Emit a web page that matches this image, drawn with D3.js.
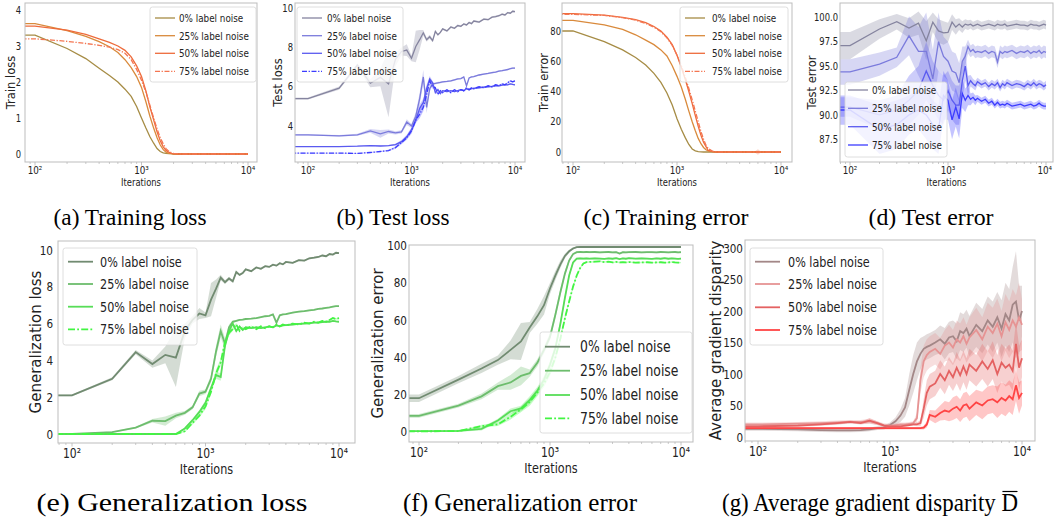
<!DOCTYPE html>
<html>
<head>
<meta charset="utf-8">
<script src="https://cdn.jsdelivr.net/npm/d3@7"></script>
<style>
  body { margin: 0; background: #fff; }
  .cond { font-family: "DejaVu Sans", sans-serif; fill: #222; }
  .norm { font-family: "DejaVu Sans", sans-serif; fill: #222; }
  .cap { font-family: "Liberation Serif", "Times New Roman", serif; fill: #000; }
</style>
</head>
<body>
<svg id="fig" width="1055" height="518"></svg>
<script>
// iterations at which the curves were logged
const iters = [0,100,200,300,400,500,600,700,800,900,1000,1100,1200,1300,1400,1500,1600,1700,1800,1900,
  2000,2200,2400,2600,2800,3000,3200,3400,3600,3800,4000,4500,5000,5500,6000,6500,7000,7500,8000,8500,9000,9500,10000];
const noiseLabels = ["0% label noise", "25% label noise", "50% label noise", "75% label noise"];
const xTickLabels = ["10²", "10³", "10⁴"];

// (a) train loss
const trainLoss0 = [3.3,3.3,2.93,2.65,2.38,2.18,2.0,1.8,1.6,1.32, 1.0,0.72,0.48,0.3,0.15,0.07,0.03,0.02,0.01,0.01,
  0,0,0,0,0,0,0,0,0,0, 0,0,0,0,0,0,0,0,0,0, 0,0,0];
const trainLoss25 = [3.62,3.62,3.43,3.27,3.12,2.98,2.82,2.62,2.4,2.15, 1.85,1.45,1.05,0.72,0.45,0.25,0.12,0.05,0.02,0.01,
  0,0,0,0,0,0,0,0,0,0, 0,0,0,0,0,0,0,0,0,0, 0,0,0];
const trainLoss50 = [3.55,3.55,3.44,3.32,3.2,3.1,3.0,2.88,2.7,2.45, 2.15,1.75,1.3,0.95,0.62,0.37,0.2,0.1,0.05,0.02,
  0.01,0,0,0,0,0,0,0,0,0, 0,0,0,0,0,0,0,0,0,0, 0,0,0];
const trainLoss75 = [3.2,3.2,3.13,3.07,3.02,2.97,2.9,2.8,2.62,2.35, 2.05,1.72,1.35,1.0,0.7,0.45,0.28,0.15,0.08,0.04,
  0.02,0.01,0,0,0,0,0,0,0,0, 0,0,0,0,0,0,0,0,0,0, 0,0,0];

// (b) test loss
const testLoss0 = [5.4,5.4,5.93,7.1,6.18,6.48,6.15,7.4,7.8,7.87, 7.45,8.05,8.4,8.75,8.4,8.55,8.35,8.82,8.65,8.77,
  8.95,8.85,9.05,8.98,9.12,9.08,9.2,9.15,9.28,9.22, 9.35,9.3,9.45,9.42,9.55,9.58,9.62,9.7,9.66,9.78, 9.75,9.85,9.83];
const testLoss25 = [3.55,3.55,3.5,3.55,3.75,3.6,3.72,3.65,3.7,4.2, 4.0,4.5,5.4,6.5,4.95,5.9,6.15,6.17,6.2,6.22,
  6.25,6.27,6.3,6.35,6.4,6.42,6.5,6.05,6.45,6.5, 6.52,6.6,6.65,6.68,6.72,6.75,6.8,6.82,6.85,6.88, 6.92,6.95,6.95];
const testLoss50 = [2.95,2.95,2.95,2.97,3.0,2.98,3.0,3.05,3.2,3.45, 3.8,4.3,4.9,5.2,5.9,6.4,6.2,5.7,5.85,5.65,
  5.8,5.75,5.8,5.75,5.8,5.85,5.8,5.9,5.85,5.9, 5.92,5.95,5.98,6.0,6.02,6.05,6.05,6.08,6.1,6.1, 6.15,6.12,6.1];
const testLoss75 = [2.62,2.62,2.62,2.6,2.65,2.7,2.75,2.9,3.15,3.4, 3.75,4.3,4.6,4.95,5.6,6.3,6.0,5.95,5.6,5.8,
  5.7,5.85,5.7,5.85,5.75,5.85,5.8,5.95,5.85,5.95, 5.9,6.0,5.95,6.05,6.0,6.1,6.05,6.15,6.1,6.2, 6.3,6.25,6.3];
const testLossBand0 = [0.05,0.05,0.08,0.1,0.2,0.45,1.7,0.35,0.2,0.3, 0.15,0.8,0.5,0.15,0.1,0.1,0.08,0.08,0.05,0.05,
  0.05,0.05,0.05,0.05,0.05,0.05,0.05,0.05,0.05,0.05, 0.05,0.05,0.05,0.05,0.05,0.05,0.05,0.05,0.05,0.05, 0.05,0.05,0.05];
const testLossBand25 = [0.03,0.03,0.04,0.05,0.1,0.2,0.1,0.08,0.08,0.15, 0.1,0.2,0.3,0.35,0.3,0.15,0.08,0.05,0.05,0.05,
  0.04,0.04,0.04,0.04,0.04,0.04,0.04,0.04,0.04,0.04, 0.04,0.04,0.04,0.04,0.04,0.04,0.04,0.04,0.04,0.04, 0.04,0.04,0.04];
const testLossBand50 = [0.02,0.02,0.02,0.02,0.03,0.03,0.03,0.05,0.08,0.1, 0.12,0.15,0.2,0.2,0.2,0.15,0.1,0.08,0.06,0.05,
  0.04,0.04,0.04,0.04,0.04,0.04,0.04,0.04,0.04,0.04, 0.04,0.04,0.04,0.04,0.04,0.04,0.04,0.04,0.04,0.04, 0.04,0.04,0.04];
const testLossBand75 = [0.02,0.02,0.02,0.02,0.03,0.03,0.04,0.06,0.08,0.1, 0.15,0.15,0.2,0.2,0.2,0.15,0.1,0.08,0.06,0.05,
  0.04,0.04,0.04,0.04,0.04,0.04,0.04,0.04,0.04,0.04, 0.04,0.04,0.04,0.04,0.04,0.04,0.04,0.04,0.04,0.04, 0.04,0.04,0.04];

// (c) train error
const trainErr0 = [80,80,73,67.5,62.5,57.5,52,46,39,31, 22,15,9.5,5,2,0.8,0.3,0.1,0,0,
  0,0,0,0,0,0,0,0,0,0, 0,0,0,0,0,0,0,0,0,0, 0,0,0];
const trainErr25 = [87,87,84,81,77.5,74,71,67.5,63.5,57, 50,43,35,27,20,14,9,5.5,3,1.5,
  0.7,0.2,0,0,0,0,0,0,0,0, 0,0,0,0,0,0,0,0,0,0, 0,0,0];
const trainErr50 = [91.5,91.5,90.5,89,87.5,85.5,83,80,76,71, 64,56,48,40,32,24,17,11,6.5,3.5,
  1.0,0.2,0,0,0,0,0,0,0,0, 0,0,0,0,0,0,0,0,0,0, 0,0,0];
const trainErr75 = [91,91,90.3,88.8,87.2,85,82.5,79.5,75.5,70.5, 64,57,49.5,42,34.5,27,20,13.5,8.5,4.5,
  2.2,0.5,0.1,0,0,0,0,0,0,0, 0,0,0,0,0,0,0,0,0,0, 0,0,0];
const trainErrBand75 = [0,0,0,0,0,0,0,0,0,0, 0,0,0,0,0,0,0,0,0,0,
  0,0,0,0,0,0,0,0,0,0, 0,0,0,0,1.8,0,0,0,0,0, 0,0,0];

// (d) test error
const testErr0 = [97.1,97.1,98.8,99.55,98.9,99.4,97.6,99.5,98.6,98.4, 98.45,99.5,99.0,99.3,99.0,99.3,99.2,99.3,99.1,99.2,
  99.3,99.1,99.2,99.3,99.2,99.1,99.3,99.2,99.2,99.3, 99.1,99.2,99.3,99.2,99.2,99.1,99.3,99.2,99.2,99.1, 99.2,99.3,99.2];
const testErr25 = [94.4,94.4,95.2,95.9,98.1,96.5,96.5,93.7,97.5,96.0, 95.5,94.5,94.3,93.3,95.5,96.0,97.0,96.5,96.7,96.4,
  96.5,96.4,96.6,96.3,96.5,96.4,95.4,96.5,96.3,96.5, 96.4,96.6,96.3,96.5,96.4,96.6,96.3,96.5,96.4,96.6, 96.3,96.5,96.4];
const testErr50 = [90.8,90.8,90.0,90.5,91.5,92.5,94.5,93.0,92.0,91.5, 92.5,91.5,91.0,91.0,93.5,95.0,93.0,93.5,93.2,93.0,
  93.4,93.1,93.3,92.9,93.2,93.0,93.3,92.8,93.2,93.0, 93.3,93.0,93.2,93.1,92.9,93.2,93.0,93.3,93.0,93.2, 93.1,92.9,93.1];
const testErr75 = [90.5,90.5,88.5,89.0,90.0,90.5,90.0,89.0,88.5,92.0, 91.5,89.5,90.8,89.6,92.2,91.5,92.0,91.6,91.8,91.5,
  91.7,91.4,91.6,91.2,91.4,91.0,91.3,91.0,91.1,91.0, 91.2,90.9,91.0,91.1,90.9,91.0,91.1,90.9,91.0,91.2, 91.0,90.9,90.9];
const testErrBand0 = [1.4,1.4,1.0,0.8,1.0,1.2,2.0,1.0,1.2,1.2, 1.0,0.8,0.8,0.6,0.6,0.5,0.5,0.45,0.45,0.45,
  0.45,0.45,0.45,0.45,0.45,0.45,0.45,0.45,0.45,0.45, 0.45,0.45,0.45,0.45,0.45,0.45,0.45,0.45,0.45,0.45, 0.45,0.45,0.45];
const testErrBand25 = [1.3,1.3,1.2,1.0,2.0,2.5,4.0,3.0,3.0,2.0, 2.0,2.0,2.0,2.0,1.5,1.0,0.7,0.6,0.6,0.6,
  0.6,0.6,0.6,0.6,0.6,0.6,0.6,0.6,0.6,0.6, 0.6,0.6,0.6,0.6,0.6,0.6,0.6,0.6,0.6,0.6, 0.6,0.6,0.6];
const testErrBand50 = [1.0,1.0,1.5,1.5,2.5,2.5,3.0,2.5,2.5,2.5, 2.0,2.0,2.0,2.0,1.8,1.5,1.0,0.6,0.5,0.5,
  0.4,0.4,0.4,0.4,0.4,0.4,0.4,0.4,0.4,0.4, 0.4,0.4,0.4,0.4,0.4,0.4,0.4,0.4,0.4,0.4, 0.4,0.4,0.4];
const testErrBand75 = [1.5,1.5,2.5,2.5,2.0,2.0,2.5,2.5,2.5,2.5, 2.0,2.0,2.0,2.0,1.5,1.2,1.0,0.6,0.5,0.5,
  0.35,0.35,0.35,0.35,0.35,0.35,0.35,0.35,0.35,0.35, 0.35,0.35,0.35,0.35,0.35,0.35,0.35,0.35,0.35,0.35, 0.35,0.35,0.35];

// (e) generalization loss
const genLoss0 = [2.1,2.1,3.0,4.45,3.8,4.3,4.15,5.6,6.2,6.55, 6.45,7.3,7.9,8.5,8.25,8.45,8.3,8.8,8.65,8.75,
  8.95,8.85,9.05,8.98,9.12,9.08,9.2,9.15,9.28,9.22, 9.35,9.3,9.45,9.42,9.55,9.58,9.62,9.7,9.66,9.78, 9.75,9.85,9.83];
const genLoss25 = [0,0,0.1,0.35,0.72,0.7,1.0,1.15,1.45,2.2, 2.3,3.0,4.5,5.6,4.9,5.8,6.1,6.15,6.2,6.22,
  6.25,6.27,6.3,6.35,6.4,6.42,6.5,6.05,6.45,6.5, 6.52,6.6,6.65,6.68,6.72,6.75,6.8,6.82,6.85,6.88, 6.92,6.95,6.95];
const genLoss50 = [0,0,0,0,0,0,0,0.3,0.75,1.2, 1.7,2.5,3.2,3.1,4.8,5.6,6.0,5.6,5.85,5.65,
  5.8,5.75,5.8,5.75,5.8,5.85,5.8,5.9,5.85,5.9, 5.92,5.95,5.98,6.0,6.02,6.05,6.05,6.08,6.1,6.1, 6.15,6.12,6.1];
const genLoss75 = [0,0,0,0,0,0,0,0.15,0.6,1.0, 1.5,2.3,3.3,3.9,5.0,5.5,5.7,5.95,5.6,5.8,
  5.7,5.85,5.7,5.85,5.75,5.85,5.8,5.95,5.85,5.95, 5.9,6.0,5.95,6.05,6.0,6.1,6.05,6.15,6.1,6.2, 6.3,6.25,6.3];
const genLossBand0 = [0.05,0.05,0.08,0.12,0.2,0.45,1.6,0.4,0.2,0.3, 0.15,0.9,0.5,0.15,0.1,0.1,0.08,0.08,0.05,0.05,
  0.05,0.05,0.05,0.05,0.05,0.05,0.05,0.05,0.05,0.05, 0.05,0.05,0.05,0.05,0.05,0.05,0.05,0.05,0.05,0.05, 0.05,0.05,0.05];
const genLossBand25 = [0.02,0.02,0.03,0.05,0.1,0.25,0.15,0.1,0.1,0.15, 0.12,0.2,0.3,0.35,0.3,0.15,0.08,0.05,0.05,0.05,
  0.04,0.04,0.04,0.04,0.04,0.04,0.04,0.04,0.04,0.04, 0.04,0.04,0.04,0.04,0.04,0.04,0.04,0.04,0.04,0.04, 0.04,0.04,0.04];
const genLossBand50 = [0.02,0.02,0.02,0.02,0.02,0.02,0.02,0.05,0.08,0.1, 0.12,0.15,0.2,0.2,0.2,0.15,0.1,0.08,0.06,0.05,
  0.04,0.04,0.04,0.04,0.04,0.04,0.04,0.04,0.04,0.04, 0.04,0.04,0.04,0.04,0.04,0.04,0.04,0.04,0.04,0.04, 0.04,0.04,0.04];
const genLossBand75 = [0.02,0.02,0.02,0.02,0.02,0.02,0.02,0.06,0.08,0.1, 0.15,0.15,0.2,0.2,0.2,0.15,0.1,0.08,0.06,0.05,
  0.04,0.04,0.04,0.04,0.04,0.04,0.04,0.04,0.04,0.04, 0.04,0.04,0.04,0.04,0.04,0.04,0.04,0.04,0.04,0.04, 0.04,0.04,0.04];

// (f) generalization error
const genErr0 = [18,18,28,34,38.5,44,48.5,56,62,68, 77,84,90,94.5,97,98.5,99.2,99.4,99.3,99.4,
  99.3,99.4,99.3,99.4,99.3,99.3,99.4,99.3,99.4,99.3, 99.3,99.4,99.3,99.3,99.4,99.3,99.3,99.4,99.3,99.3, 99.4,99.3,99.3];
const genErr25 = [8.5,8.5,14,19,24.5,26.5,30,31.5,37,44, 51,63,75,85,92,95.5,96.5,96.6,96.5,96.6,
  96.5,96.6,96.4,96.5,96.6,96.4,96.5,95.8,96.5,96.4, 96.5,96.6,96.4,96.5,96.5,96.4,96.6,96.5,96.4,96.5, 96.6,96.4,96.5];
const genErr50 = [0.3,0.3,0.4,1.5,6,11,12.5,17,22,28, 36,45,58,72,84,91,93,93.2,93.1,93.2,
  93.0,93.2,93.1,92.9,93.2,93.0,93.3,92.8,93.2,93.0, 93.3,93.0,93.2,93.1,92.9,93.2,93.0,93.3,93.0,93.2, 93.1,92.9,93.1];
const genErr75 = [0.2,0.2,0.3,3,4,8,12,16,21,26, 32,40,50,61,70,78,84,88,90.5,91.2,
  91.3,91.4,91.6,91.2,91.4,91.0,91.3,91.0,91.1,91.0, 91.2,90.9,91.0,91.1,90.9,91.0,91.1,90.9,91.0,91.2, 91.0,90.9,90.9];
const genErrBand0 = [2,2,2,2.5,2.5,5,10,3,4,5, 3,2.5,2,1.2,0.8,0.6,0.5,0.5,0.5,0.5,
  0.5,0.5,0.5,0.5,0.5,0.5,0.5,0.5,0.5,0.5, 0.5,0.5,0.5,0.5,0.5,0.5,0.5,0.5,0.5,0.5, 0.5,0.5,0.5];
const genErrBand25 = [1,1,1,1.5,2,4,5,2,2,2, 2,2,2,1.5,1,0.6,0.5,0.5,0.5,0.5,
  0.5,0.5,0.5,0.5,0.5,0.5,0.5,0.5,0.5,0.5, 0.5,0.5,0.5,0.5,0.5,0.5,0.5,0.5,0.5,0.5, 0.5,0.5,0.5];
const genErrBand50 = [0.3,0.3,0.4,0.8,1,1.5,1.5,2,2,2, 2,2,2,1.5,1.2,0.8,0.5,0.5,0.5,0.5,
  0.4,0.4,0.4,0.4,0.4,0.4,0.4,0.4,0.4,0.4, 0.4,0.4,0.4,0.4,0.4,0.4,0.4,0.4,0.4,0.4, 0.4,0.4,0.4];
const genErrBand75 = [0.3,0.3,0.4,0.8,1,1.5,1.5,2,2,2, 2,2,2,1.5,1.2,1,0.8,0.6,0.5,0.5,
  0.4,0.4,0.4,0.4,0.4,0.4,0.4,0.4,0.4,0.4, 0.4,0.4,0.4,0.4,0.4,0.4,0.4,0.4,0.4,0.4, 0.4,0.4,0.4];

// (g) average gradient disparity
const disp0 = [13,13,12,11,10.5,10.5,11,12,14,15, 19,25,34,47,75,100,120,132,140,143,
  145,150,155,148,158,160,152,168,165,172, 160,178,168,185,175,190,172,195,185,210, 215,185,200];
const disp25 = [20,20,21,22,23,24,24,25,22,19, 18,19,20,20,21,22,30,90,120,130,
  135,140,132,145,150,142,155,150,160,148, 158,170,155,175,165,180,160,182,170,185, 175,190,178];
const disp50 = [17,17,18,20,22,24,22,26,22,18, 17,17,17,18,19,20,20,22,45,70,
  80,85,100,90,105,95,110,98,112,100, 115,105,120,108,122,100,118,110,115,105, 148,110,125];
const disp75 = [14,14,14,14,14,14,14,14,14,14, 14,14,14,14,14,14,14,14,15,20,
  35,32,38,42,40,45,48,42,50,52, 45,55,50,58,60,55,62,58,65,60, 82,62,70];
const dispBand0 = [3,3,3,3,3,3,3,3,3,3, 4,6,10,15,25,30,30,25,20,20,
  20,20,22,25,25,25,28,30,30,30, 32,35,35,38,40,40,45,50,50,60, 80,55,40];
const dispBand25 = [3,3,3,3,3,3,3,4,3,3, 3,3,3,3,3,3,8,20,25,25,
  25,25,25,25,28,28,30,30,30,30, 32,35,35,38,40,40,40,45,45,50, 50,55,40];
const dispBand50 = [2,2,2,2,2,2,2,4,3,2, 2,2,2,2,2,2,3,5,15,20,
  20,20,22,22,22,22,25,25,25,25, 25,25,28,28,30,30,30,30,32,32, 35,35,30];
const dispBand75 = [2,2,2,2,2,2,2,2,2,2, 2,2,2,2,2,2,2,2,3,5,
  8,10,12,15,15,18,18,18,20,20, 20,20,22,22,22,25,25,25,25,25, 25,25,20];

const orangeColors = ["#a68c45", "#d98a3c", "#ee6b3b", "#f47652"];
const blueColors = ["#85849f", "#7b7bdc", "#5a5af0", "#3c3cff"];
const greenColors = ["#718b71", "#6dbd6d", "#57dd57", "#42f542"];
const redColors = ["#a38787", "#e69393", "#e46262", "#ff4444"];

// the source figures were squeezed sideways, so text gets narrowed by this factor
const SQUEEZE = 0.8;
const W = 1055;

const topRow = { tick: 10.5, xlab: 10.5, ylab: 11.5, lw: 1.3, dash: "5,1.6,1.3,1.6", leg: 20, small: true };
const bottomRow = { tick: 13, xlab: 14, ylab: 15, lw: 1.8, dash: "7,2.2,1.8,2.2", leg: 25, small: false };

const panels = [
  { id: "a", series: [trainLoss0, trainLoss25, trainLoss50, trainLoss75], bands: null,
    colors: orangeColors, dashed: [false, false, false, true], st: topRow,
    box: { l: 25, r: 257, t: 3, b: 162 }, x2: 35, x4: 248, yv: [0, 4], yp: [154, 10],
    yTicks: [0, 1, 2, 3, 4], yFmt: d3.format("d"), ylabel: "Train loss", ylabX: 11, tickR: 21,
    legend: { x: 150, y: 7, w: 106, h: 75, tx: 179, l0: 155, rows: [18, 35.7, 53.3, 71.3], fs: 11 },
    caption: "(a) Training loss", capX: 130, capW: 153 },
  { id: "b", series: [testLoss0, testLoss25, testLoss50, testLoss75],
    bands: [testLossBand0, testLossBand25, testLossBand50, testLossBand75],
    colors: blueColors, dashed: [false, false, false, true], st: topRow,
    box: { l: 295, r: 525, t: 3, b: 162 }, x2: 308, x4: 515, yv: [4, 10], yp: [126, 8.3],
    yTicks: [4, 6, 8, 10], yFmt: d3.format("d"), ylabel: "Test loss", ylabX: 278, tickR: 293,
    legend: { x: 297, y: 7, w: 106, h: 75, tx: 327, l0: 302, rows: [18, 35.7, 53.3, 71.3], fs: 11 },
    caption: "(b) Test loss", capX: 393, capW: 113 },
  { id: "c", series: [trainErr0, trainErr25, trainErr50, trainErr75],
    bands: [null, null, null, trainErrBand75],
    colors: orangeColors, dashed: [false, false, false, true], st: topRow,
    box: { l: 562, r: 792, t: 3, b: 162 }, x2: 573, x4: 781, yv: [0, 80], yp: [152, 31],
    yTicks: [0, 20, 40, 60, 80], yFmt: d3.format("d"), ylabel: "Train error", ylabX: 544, tickR: 561,
    legend: { x: 680, y: 7, w: 108, h: 75, tx: 712, l0: 685, rows: [18, 35.7, 53.3, 71.3], fs: 11 },
    caption: "(c) Training error", capX: 666, capW: 165 },
  { id: "d", series: [testErr0, testErr25, testErr50, testErr75],
    bands: [testErrBand0, testErrBand25, testErrBand50, testErrBand75],
    colors: blueColors, dashed: [false, false, false, false], st: topRow,
    box: { l: 840, r: 1053, t: 3, b: 162 }, x2: 850, x4: 1046, yv: [87.5, 100], yp: [139.3, 17.3],
    yTicks: [87.5, 90, 92.5, 95, 97.5, 100], yFmt: d3.format(".1f"), ylabel: "Test error", ylabX: 812, tickR: 838,
    legend: { x: 845, y: 82, w: 102, h: 75, tx: 872, l0: 848, rows: [90, 108.3, 126.7, 145], fs: 11 },
    caption: "(d) Test error", capX: 931, capW: 125 },
  { id: "e", series: [genLoss0, genLoss25, genLoss50, genLoss75],
    bands: [genLossBand0, genLossBand25, genLossBand50, genLossBand75],
    colors: greenColors, dashed: [false, false, false, true], st: bottomRow,
    box: { l: 58, r: 355, t: 241, b: 443 }, x2: 72, x4: 339, yv: [0, 10], yp: [434, 250],
    yTicks: [0, 2, 4, 6, 8, 10], yFmt: d3.format("d"), ylabel: "Generalization loss", ylabX: 36, tickR: 53,
    legend: { x: 63, y: 248, w: 134, h: 97, tx: 100, l0: 68, rows: [261.7, 284, 306.7, 329.3], fs: 14 },
    caption: "(e) Generalization loss", capX: 172, capW: 271 },
  { id: "f", series: [genErr0, genErr25, genErr50, genErr75],
    bands: [genErrBand0, genErrBand25, genErrBand50, genErrBand75],
    colors: greenColors, dashed: [false, false, false, true], st: bottomRow,
    box: { l: 409, r: 693, t: 245, b: 442 }, x2: 419, x4: 681, yv: [0, 100], yp: [431.7, 245.7],
    yTicks: [0, 20, 40, 60, 80, 100], yFmt: d3.format("d"), ylabel: "Generalization error", ylabX: 378, tickR: 407,
    legend: { x: 540, y: 332, w: 152, h: 101, tx: 580, l0: 545, rows: [346.7, 370.7, 395, 418.3], fs: 15.5 },
    caption: "(f) Generalization error", capX: 520, capW: 234 },
  { id: "g", series: [disp0, disp25, disp50, disp75],
    bands: [dispBand0, dispBand25, dispBand50, dispBand75],
    colors: redColors, dashed: [false, false, false, false], st: bottomRow,
    box: { l: 745, r: 1035, t: 240, b: 441 }, x2: 758, x4: 1022, yv: [0, 300], yp: [437, 248],
    yTicks: [0, 50, 100, 150, 200, 250, 300], yFmt: d3.format("d"), ylabel: "Average gradient disparity", ylabX: 716, tickR: 743,
    legend: { x: 750, y: 248, w: 133, h: 97, tx: 788, l0: 755, rows: [261.7, 284, 307.3, 330], fs: 14 },
    caption: "(g) Average gradient disparity D", capX: 870, capW: 296, capBar: true },
];

const svg = d3.select("#fig");

// narrow a text to match the squeezed look of the original panels
const squeeze = (sel) => sel.each(function () {
  const len = this.getComputedTextLength();
  d3.select(this).attr("textLength", len * SQUEEZE).attr("lengthAdjust", "spacingAndGlyphs");
});

const drawPanel = (p) => {
  const { box, st } = p;
  const g = svg.append("g").attr("class", "panel-" + p.id);
  const x = d3.scaleLog().domain([100, 10000]).range([p.x2, p.x4]);
  const y = d3.scaleLinear().domain(p.yv).range(p.yp);
  const xi = (i) => x(Math.max(iters[i], 1)); // iteration 0 goes off to the left, like matplotlib's clip

  g.append("clipPath").attr("id", "clip-" + p.id)
    .append("rect")
    .attr("x", box.l).attr("y", box.t)
    .attr("width", box.r - box.l).attr("height", box.b - box.t);
  const plot = g.append("g").attr("clip-path", `url(#clip-${p.id})`);

  // std bands
  if (p.bands) {
    p.series.forEach((s, k) => {
      const band = p.bands[k];
      if (!band) return;
      plot.append("path")
        .datum(s)
        .attr("d", d3.area()
          .x((d, i) => xi(i))
          .y0((d, i) => y(d - band[i]))
          .y1((d, i) => y(d + band[i])))
        .attr("fill", p.colors[k])
        .attr("fill-opacity", 0.3);
    });
  }

  p.series.forEach((s, k) => {
    plot.append("path")
      .datum(s)
      .attr("d", d3.line().x((d, i) => xi(i)).y((d) => y(d)))
      .attr("fill", "none")
      .attr("stroke", p.colors[k])
      .attr("stroke-width", st.lw)
      .attr("stroke-dasharray", p.dashed[k] ? st.dash : null);
  });

  // frame
  g.append("rect")
    .attr("x", box.l).attr("y", box.t)
    .attr("width", box.r - box.l).attr("height", box.b - box.t)
    .attr("fill", "none").attr("stroke", "#bdbdbd").attr("stroke-width", 1);

  // log ticks on x
  const lo = x.invert(box.l), hi = x.invert(box.r);
  const minor = [];
  [10, 100, 1000].forEach((dec) => {
    for (let m = 2; m <= 9; m++) if (m * dec >= lo && m * dec <= hi) minor.push(m * dec);
  });
  g.selectAll(".minor").data(minor).enter().append("line")
    .attr("x1", (d) => x(d)).attr("x2", (d) => x(d))
    .attr("y1", box.b).attr("y2", box.b + 2)
    .attr("stroke", "#b5b5b5").attr("stroke-width", 0.7);
  g.selectAll(".major").data([100, 1000, 10000]).enter().append("line")
    .attr("x1", (d) => x(d)).attr("x2", (d) => x(d))
    .attr("y1", box.b).attr("y2", box.b + 3.5)
    .attr("stroke", "#b5b5b5").attr("stroke-width", 0.8);

  g.selectAll(".xtick").data([100, 1000, 10000]).enter().append("text")
    .attr("class", "cond")
    .attr("y", box.b + (st.small ? 12 : 15))
    .attr("text-anchor", "middle")
    .style("font-size", (st.tick + 0.5) + "px")
    .text((d, i) => xTickLabels[i])
    .each(function (d) {
      // keep the last label inside the page
      const half = this.getComputedTextLength() / 2;
      d3.select(this).attr("x", Math.min(x(d), W - half - 1));
    })
    .call(squeeze);

  g.append("text").attr("class", "cond")
    .attr("x", (box.l + box.r) / 2).attr("y", box.b + (st.small ? 23.5 : 31))
    .attr("text-anchor", "middle")
    .style("font-size", st.xlab + "px")
    .text("Iterations")
    .call(squeeze);

  // y ticks
  g.selectAll(".ytick").data(p.yTicks).enter().append("text")
    .attr("class", "cond")
    .attr("x", p.tickR).attr("y", (d) => y(d))
    .attr("dy", "0.35em")
    .attr("text-anchor", "end")
    .style("font-size", st.tick + "px")
    .text(p.yFmt)
    .call(squeeze);

  g.append("text").attr("class", "norm")
    .attr("transform", `translate(${p.ylabX},${(box.t + box.b) / 2}) rotate(-90)`)
    .attr("dy", "0.35em")
    .attr("text-anchor", "middle")
    .style("font-size", st.ylab + "px")
    .text(p.ylabel);

  // legend
  const L = p.legend;
  g.append("rect")
    .attr("x", L.x).attr("y", L.y).attr("width", L.w).attr("height", L.h)
    .attr("rx", 2.5)
    .attr("fill", "#fff").attr("fill-opacity", 0.8)
    .attr("stroke", "#d6d6d6").attr("stroke-width", 0.8);
  noiseLabels.forEach((lab, k) => {
    g.append("line")
      .attr("x1", L.l0).attr("x2", L.l0 + st.leg)
      .attr("y1", L.rows[k]).attr("y2", L.rows[k])
      .attr("stroke", p.colors[k]).attr("stroke-width", st.lw)
      .attr("stroke-dasharray", p.dashed[k] ? st.dash : null);
    g.append("text").attr("class", "cond")
      .attr("x", L.tx).attr("y", L.rows[k]).attr("dy", "0.35em")
      .style("font-size", L.fs + "px")
      .text(lab)
      .call(squeeze);
  });

  // caption under the subfigure
  const capSize = st.small ? 23 : 25;
  const capY = st.small ? 225 : 511;
  const cap = svg.append("text").attr("class", "cap")
    .attr("x", p.capX).attr("y", capY)
    .attr("text-anchor", "middle")
    .attr("textLength", p.capW).attr("lengthAdjust", "spacingAndGlyphs")
    .style("font-size", capSize + "px")
    .text(p.caption);
  if (p.capBar) {
    // bar over the last letter (mean disparity)
    const ext = cap.node().getExtentOfChar(p.caption.length - 1);
    svg.append("line")
      .attr("x1", ext.x + 1).attr("x2", ext.x + ext.width - 0.5)
      .attr("y1", capY - capSize * 0.78).attr("y2", capY - capSize * 0.78)
      .attr("stroke", "#000").attr("stroke-width", 1.2);
  }
};

panels.forEach(drawPanel);
</script>
</body>
</html>
